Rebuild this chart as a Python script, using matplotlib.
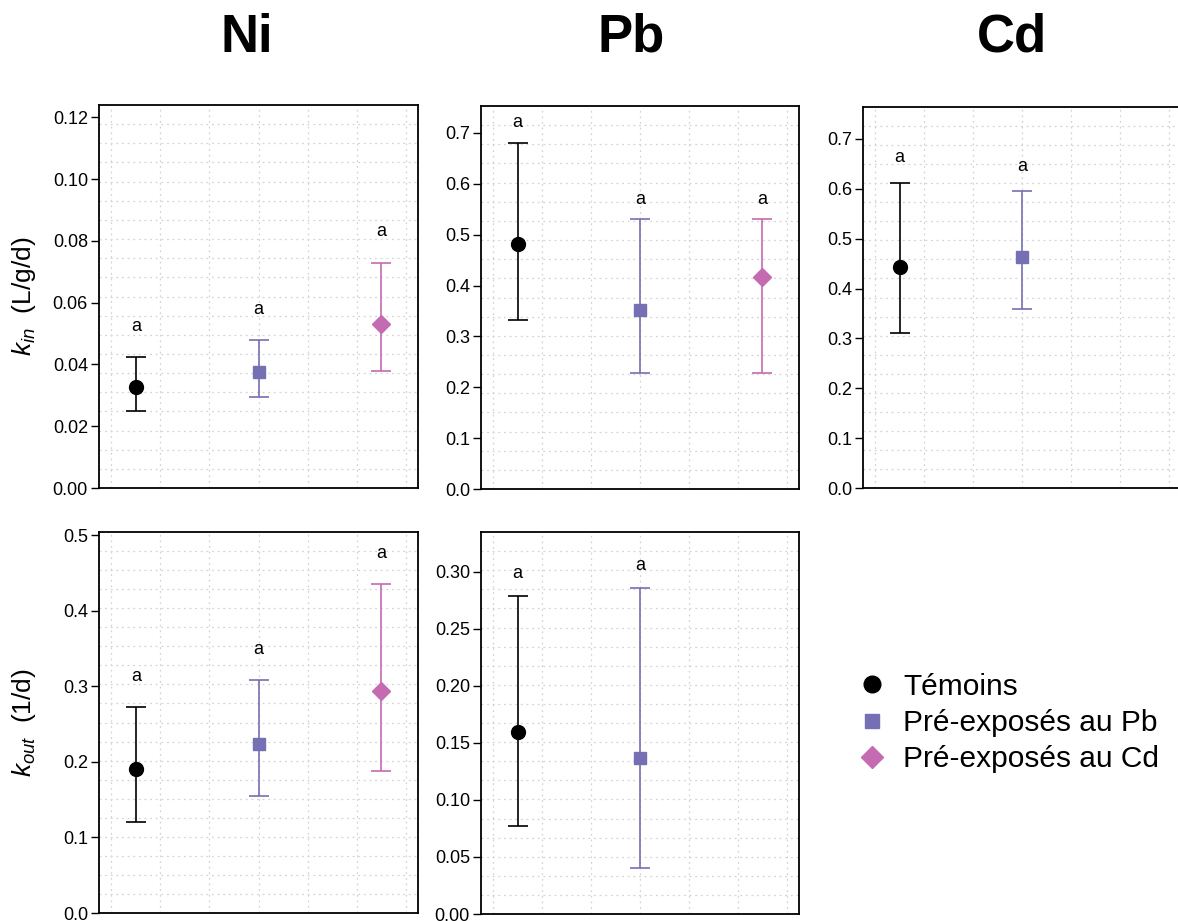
import numpy as np
import matplotlib
matplotlib.use("Agg")
import matplotlib.pyplot as plt
from matplotlib.lines import Line2D
from matplotlib.ticker import FormatStrFormatter, FixedLocator

plt.rcParams["font.family"] = ["Liberation Sans", "DejaVu Sans"]
plt.rcParams["mathtext.fontset"] = "custom"
plt.rcParams["mathtext.rm"] = "Liberation Sans"
plt.rcParams["mathtext.it"] = "Liberation Sans:italic"

# groupes
groups = ["Témoins", "Pré-exposés au Pb", "Pré-exposés au Cd"]
metals = ["Ni", "Pb", "Cd"]

# k_in (L/g/d)
ni_kin_mean = [0.0328, 0.0376, 0.0530]
ni_kin_low = [0.0249, 0.0294, 0.0379]
ni_kin_high = [0.0423, 0.0480, 0.0730]

pb_kin_mean = [0.4825, 0.3510, 0.4170]
pb_kin_low = [0.3330, 0.2275, 0.2275]
pb_kin_high = [0.6810, 0.5310, 0.5310]

cd_kin_mean = [0.4430, 0.4640]
cd_kin_low = [0.3115, 0.3585]
cd_kin_high = [0.6125, 0.5950]

# k_out (1/d)
ni_kout_mean = [0.1905, 0.2230, 0.2940]
ni_kout_low = [0.1210, 0.1550, 0.1885]
ni_kout_high = [0.2730, 0.3080, 0.4350]

pb_kout_mean = [0.1600, 0.1365]
pb_kout_low = [0.0770, 0.0400]
pb_kout_high = [0.2785, 0.2855]

letters = ["a", "a", "a"]

colors = ["black", "#7570B3", "#C46BB2"]
markers = ["o", "s", "D"]
msizes = [10, 9, 9]

fig = plt.figure(figsize=(11.78, 9.21), dpi=100)

W, H = 1178, 921


def box(left, top, right, bottom):
    return [left / W, 1 - bottom / H, (right - left) / W, (bottom - top) / H]


panels = [
    # (rect, mean, low, high, ylim, step, fmt, gap, ylabel)
    (box(99, 105, 418, 488), ni_kin_mean, ni_kin_low, ni_kin_high, 0.124, 0.02, "%.2f", 0.0099, r"$k_{in}$  (L/g/d)"),
    (box(481, 106, 799, 489), pb_kin_mean, pb_kin_low, pb_kin_high, 0.753, 0.1, "%.1f", 0.039, None),
    (box(863, 107, 1181, 488), cd_kin_mean, cd_kin_low, cd_kin_high, 0.764, 0.1, "%.1f", 0.05, None),
    (box(99, 532, 418, 913), ni_kout_mean, ni_kout_low, ni_kout_high, 0.504, 0.1, "%.1f", 0.04, r"$k_{out}$  (1/d)"),
    (box(481, 532, 799, 914), pb_kout_mean, pb_kout_low, pb_kout_high, 0.335, 0.05, "%.2f", 0.02, None),
]

for rect, mean, low, high, ytop, step, fmt, gap, ylabel in panels:
    ax = fig.add_axes(rect)
    ax.set_xlim(0.7, 3.3)
    ax.set_ylim(0, ytop)

    # grille pointillée
    for gx in np.arange(0.8, 3.3, 0.4):
        ax.axvline(gx, color="#d4d4d4", lw=0.9, ls=(0, (1.5, 3)), zorder=0)
    for k in range(1, 20):
        ax.axhline(ytop * k / 20, color="#d4d4d4", lw=0.9, ls=(0, (1.5, 3)), zorder=0)

    for i in range(len(mean)):
        x = i + 1
        err = [[mean[i] - low[i]], [high[i] - mean[i]]]
        ax.errorbar([x], [mean[i]], yerr=err, fmt=markers[i], color=colors[i],
                    ms=msizes[i], elinewidth=1.2, capsize=7, capthick=1.2, zorder=3)
        ax.text(x, high[i] + gap, letters[i], ha="center", va="center", fontsize=13)

    ax.yaxis.set_major_locator(FixedLocator(np.arange(0, ytop + 1e-9, step)))
    ax.yaxis.set_major_formatter(FormatStrFormatter(fmt))
    ax.set_xticks([])
    ax.tick_params(axis="y", direction="out", length=6, width=1, labelsize=13, pad=2)
    for s in ax.spines.values():
        s.set_linewidth(1.3)
    if ylabel:
        ax.set_ylabel(ylabel, fontsize=19)
        ax.yaxis.set_label_coords(-0.19, 0.5)

# titres
for name, xp in zip(metals, [247, 631, 1012]):
    fig.text(xp / W, 1 - 38 / H, name, ha="center", va="center", fontsize=38, fontweight="bold")

handles = [Line2D([], [], ls="none", marker=m, color=c, ms=s)
           for m, c, s in zip(markers, colors, [12, 10, 11])]
fig.legend(handles, groups, loc="center left", bbox_to_anchor=(845 / W, 1 - 723 / H),
           fontsize=21.5, frameon=False, handlelength=1.0, handletextpad=0.55,
           labelspacing=0.28, borderaxespad=0)

fig.savefig("out.png", dpi=100)
